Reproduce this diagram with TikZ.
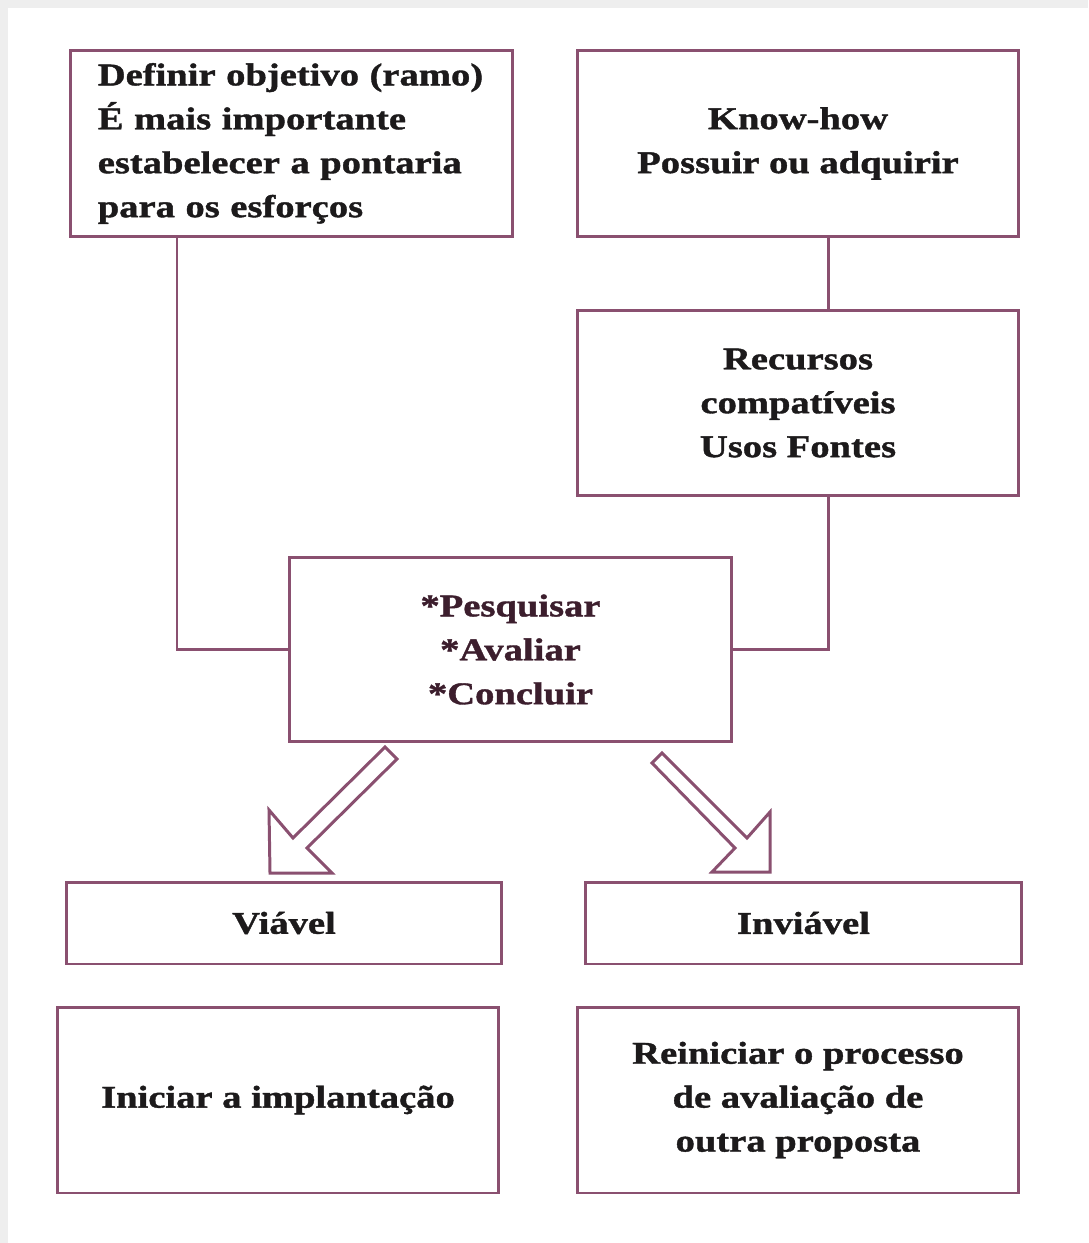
\documentclass[tikz,border=0pt]{standalone}
\usepackage{fontspec}
\usepackage{xcolor}
\setmainfont{Liberation Serif}[FakeStretch=1.22, BoldFeatures={FakeStretch=1.22, FakeBold=1.2}]
\usetikzlibrary{positioning,calc}

\definecolor{boxline}{RGB}{138,80,112}
\definecolor{boxtext}{RGB}{28,26,27}
\definecolor{proctext}{RGB}{60,30,45}
\definecolor{pageedge}{RGB}{238,238,238}

\begin{document}
\begin{tikzpicture}[x=0.02cm, y=-0.02cm,
  box/.style={draw=boxline, line width=1.7pt, rectangle, inner sep=0pt,
    font=\fontsize{18}{25}\selectfont\bfseries, text=boxtext, align=center},
  bigbox/.style={box, minimum width=8.84cm, minimum height=3.72cm},
  smallbox/.style={box, minimum width=8.72cm, minimum height=1.64cm},
  link/.style={draw=boxline, line width=1.7pt},
  hollow/.style={draw=boxline, line width=1.7pt, line join=miter, fill=white}]
\def\rowA{143.5}
\def\rowB{403}
\def\rowC{649.5}
\def\rowD{923}
\def\rowE{1100}
% Page
\useasboundingbox (0,0) rectangle (1088,1243);
\fill[pageedge] (0,0) rectangle (1088,1243);
\fill[white] (8,8) rectangle (1088,1243);

% Top boxes
\node[bigbox, align=left, text width=7.75cm, inner xsep=0.5cm] (objetivo) at (291.5,\rowA)
  {Definir objetivo (ramo)\\É mais importante\\estabelecer a pontaria\\para os esforços};
\node[bigbox] (knowhow) at (798,\rowA) {Know-how\\Possuir ou adquirir};
\node[bigbox] (recursos) at (798,\rowB) {Recursos\\compatíveis\\Usos Fontes};

% Centre box
\node[bigbox, minimum height=3.7cm, text=proctext] (processo) at (510.5,\rowC)
  {*Pesquisar\\*Avaliar\\*Concluir};

% Results
\node[smallbox] (viavel) at (284,\rowD) {Viável};
\node[smallbox] (inviavel) at (803.5,\rowD) {Inviável};
\node[bigbox] (iniciar) at (278,\rowE) {Iniciar a implantação};
\node[bigbox] (reiniciar) at (798,\rowE) {Reiniciar o processo\\de avaliação de\\outra proposta};

% Connectors
\coordinate (lx) at (177,0);
\coordinate (rx) at (828,0);
\draw[link] (objetivo.south -| lx) |- (processo.west);
\draw[link] (knowhow.south -| rx) -- (recursos.north -| rx);
\draw[link] (recursos.south -| rx) |- (processo.east);

% Hollow arrows
\draw[hollow] (385,747) -- (293,838) -- (269,810) -- (270,873) -- (332,873) -- (307,848) -- (397,759) -- cycle;
\draw[hollow] (662,753) -- (747,838) -- (770,812) -- (770,872) -- (712,872) -- (735,848) -- (652,763) -- cycle;

\end{tikzpicture}
\end{document}
